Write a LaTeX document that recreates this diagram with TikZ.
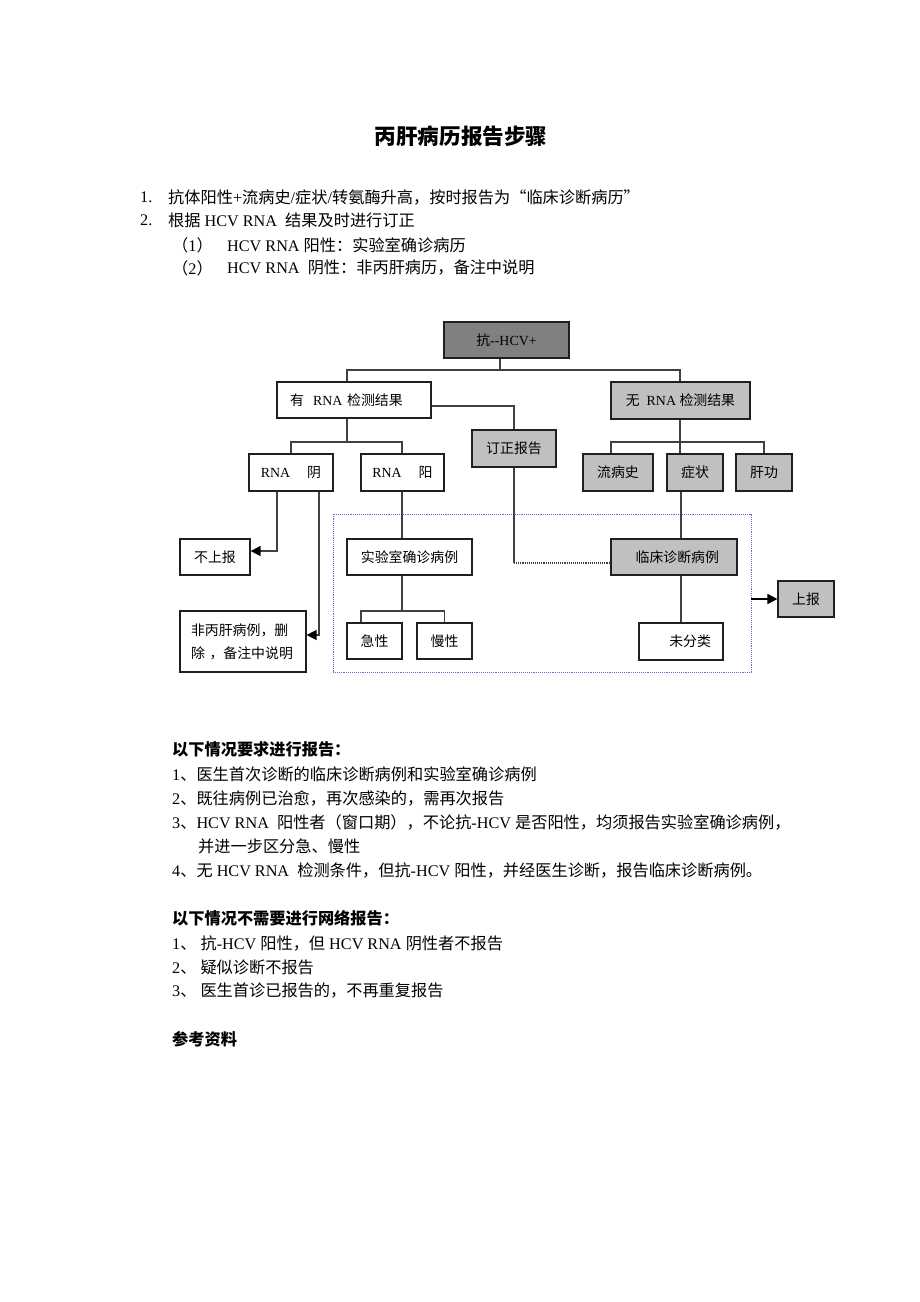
\documentclass[tikz,border=0pt]{standalone}
\usepackage{fontspec}
\setmainfont{Liberation Serif}
\newfontfamily\cjk{Noto Sans CJK SC}
\usetikzlibrary{arrows.meta}
\newcount\mycnt
\def\setcls#1#2{\mycnt=#1\relax\loop\XeTeXcharclass\mycnt=7\relax\advance\mycnt by 1\relax\ifnum\mycnt<#2\relax\repeat}
\setcls{"4E00}{"A000}
\setcls{"3000}{"3040}
\setcls{"FF00}{"FFF0}
\XeTeXcharclass"201C=7
\XeTeXcharclass"201D=7
\XeTeXinterchartoks 0 7 = {\cjk}
\XeTeXinterchartoks 4095 7 = {\cjk}
\XeTeXinterchartoks 7 0 = {\rmfamily}
\XeTeXinterchartoks 7 4095 = {\rmfamily}
\XeTeXinterchartokenstate=1
\definecolor{boxgray}{HTML}{C0C0C0}
\definecolor{darkgrayfill}{HTML}{808080}
\definecolor{linegray}{HTML}{404040}
\definecolor{dotblue}{HTML}{6666EE}
\newcommand\bodyf{\fontsize{16.2}{19}\selectfont}
\newcommand\diagf{\fontsize{13.9}{16}\selectfont}
\begin{document}
\begin{tikzpicture}[x=1pt,y=-1pt,
 txt/.style={anchor=west, inner sep=0, font=\bodyf},
 box/.style={draw=black!88, line width=1.2pt, inner sep=0, font=\diagf, minimum height=36},
 wbox/.style={box, fill=white},
 gbox/.style={box, fill=boxgray},
 dbox/.style={box, fill=darkgrayfill},
 conn/.style={draw=linegray, line width=1.3pt},
 arr/.style={conn, -{Triangle[length=10pt,width=10pt,color=black]}},
 dotl/.style={draw=linegray, line width=1.1pt, densely dotted},
 grpbox/.style={draw=dotblue, line width=0.9pt, densely dotted, inner sep=0}]
\fill[white] (0,0) rectangle (920,1302);
\useasboundingbox (0,0) rectangle (920,1302);

% title and top list
\node[inner sep=0, font=\fontsize{21.6}{24}\selectfont\bfseries] (title) at (461,136) {丙肝病历报告步骤};
\node[txt] (n1) at (140,197) {1.};
\node[txt] (t1) at (168,197) {抗体阳性+流病史/症状/转氨酶升高，按时报告为“临床诊断病历”};
\node[txt] (n2) at (140,220) {2.};
\node[txt] (t2) at (168,220) {根据 HCV RNA\ \ 结果及时进行订正};
\node[txt] (n3) at (172,245) {（1）};
\node[txt] (t3) at (227,245) {HCV RNA 阳性：实验室确诊病历};
\node[txt] (n4) at (172,268) {（2）};
\node[txt] (t4) at (227,268) {HCV RNA\ \ 阴性：非丙肝病历，备注中说明};

% diagram
\node[grpbox, minimum width=418, minimum height=158] (grp) at (542,593) {};
\node[dbox, minimum width=125] (hcv) at (506.5,340) {抗-{}-HCV+};
\node[wbox, minimum width=154, text width=128, align=left] (yes) at (354,400) {有\ \ RNA 检测结果};
\node[gbox, minimum width=139, minimum height=37] (no) at (680.5,400.5) {无\ \ RNA 检测结果};
\node[gbox, minimum width=84, minimum height=37] (fix) at (514,448.5) {订正报告};
\node[wbox, minimum width=84, minimum height=37] (neg) at (291,472.5) {RNA\hspace{17pt}阴};
\node[wbox, minimum width=83, minimum height=37] (pos) at (402.5,472.5) {RNA\hspace{17pt}阳};
\node[gbox, minimum width=70, minimum height=37] (hist) at (618,472.5) {流病史};
\node[gbox, minimum width=56, minimum height=37] (sym) at (695,472.5) {症状};
\node[gbox, minimum width=56, minimum height=37] (liver) at (764,472.5) {肝功};
\node[wbox, minimum width=70] (norep) at (215,557) {不上报};
\node[wbox, minimum width=126, minimum height=61, text width=104, align=left, font=\fontsize{13.9}{23}\selectfont] (nonhcv) at (243,641.5) {非丙肝病例，删\\除\ ，备注中说明};
\node[wbox, minimum width=125] (lab) at (409.5,557) {实验室确诊病例};
\node[wbox, minimum width=55] (acute) at (374.5,641) {急性};
\node[wbox, minimum width=55] (chron) at (444.5,641) {慢性};
\node[gbox, minimum width=126, text width=90, align=right] (clin) at (674,557) {临床诊断病例};
\node[wbox, minimum width=84, minimum height=37, text width=60, align=right] (uncl) at (681,641.5) {未分类};
\node[gbox, minimum width=56] (rep) at (806,599) {上报};

% connectors
\coordinate (j1) at (500,370);
\draw[conn] (hcv.south -| j1) -- (j1);
\draw[conn] (yes.north -| 347,0) |- (j1) -| (no.north -| 680,0);
\draw[conn] (yes.east |- 0,406) -| (fix.north);
\coordinate (j2) at (347,442);
\draw[conn] (yes.south -| j2) -- (j2);
\draw[conn] (neg.north) |- (j2) -| (pos.north -| 402,0);
\coordinate (j3) at (680,442);
\draw[conn] (no.south -| j3) -- (sym.north -| j3);
\draw[conn] (hist.north -| 611,0) |- (j3) -| (liver.north);
\draw[conn] (sym.south -| 681,0) -- (clin.north -| 681,0);
\draw[conn] (clin.south -| 681,0) -- (uncl.north);
\draw[arr] (neg.south -| 277,0) |- (norep.east |- 0,551);
\draw[arr] (neg.south -| 319,0) |- (nonhcv.east |- 0,635);
\draw[conn] (pos.south -| 402,0) -- (lab.north -| 402,0);
\coordinate (j4) at (402,611);
\draw[conn] (lab.south -| j4) -- (j4);
\draw[conn] (acute.north -| 361,0) |- (j4) -| (chron.north);
\coordinate (j5) at (514,563);
\draw[conn] (fix.south) -- (j5);
\draw[dotl] (j5) -- (clin.west |- j5);
\draw[arr, draw=black, line width=1.8pt] (grp.east |- 0,599) -- (rep.west);

% lower text
\node[txt, font=\bodyf\bfseries] (h1) at (172,749) {以下情况要求进行报告：};
\node[txt] (r1) at (172,774) {1、医生首次诊断的临床诊断病例和实验室确诊病例};
\node[txt] (r2) at (172,798) {2、既往病例已治愈，再次感染的，需再次报告};
\node[txt] (r3) at (172,822) {3、HCV RNA\ \ 阳性者（窗口期），不论抗-HCV 是否阳性，均须报告实验室确诊病例，};
\node[txt] (r3b) at (198,846) {并进一步区分急、慢性};
\node[txt] (r4) at (172,870) {4、无 HCV RNA\ \ 检测条件，但抗-HCV 阳性，并经医生诊断，报告临床诊断病例。};
\node[txt, font=\bodyf\bfseries] (h2) at (172,918) {以下情况不需要进行网络报告：};
\node[txt] (s1) at (172,943) {1、 抗-HCV 阳性，但 HCV RNA 阴性者不报告};
\node[txt] (s2) at (172,967) {2、 疑似诊断不报告};
\node[txt] (s3) at (172,991) {3、 医生首诊已报告的，不再重复报告};
\node[txt, font=\bodyf\bfseries] (h3) at (172,1039) {参考资料};
\end{tikzpicture}
\end{document}
